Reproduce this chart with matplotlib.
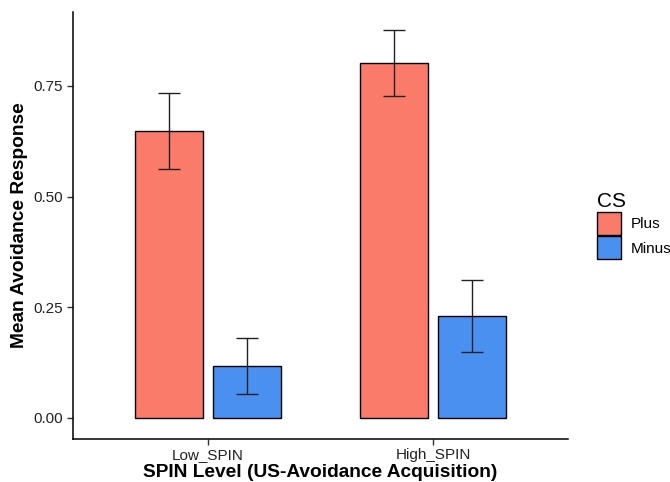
import numpy as np
import matplotlib
matplotlib.use('Agg')
import matplotlib.pyplot as plt

plt.rcParams['font.family'] = ['Liberation Sans', 'DejaVu Sans']

groups = ['Low_SPIN', 'High_SPIN']
cs_levels = ['Plus', 'Minus']
means = {'Plus': [0.648, 0.802], 'Minus': [0.117, 0.230]}
lower = {'Plus': [0.563, 0.728], 'Minus': [0.053, 0.148]}
upper = {'Plus': [0.733, 0.876], 'Minus': [0.181, 0.312]}
colors = {'Plus': '#FB7B6B', 'Minus': '#4A90F0'}

fig = plt.figure(figsize=(6.7, 4.82), dpi=100)
ax = fig.add_axes([0.109, 0.09, 0.739, 0.885])

x = np.arange(1, len(groups) + 1)
width = 0.3
offsets = {'Plus': -0.173, 'Minus': 0.173}

for cs in cs_levels:
    pos = x + offsets[cs]
    m = np.array(means[cs])
    err = [m - np.array(lower[cs]), np.array(upper[cs]) - m]
    ax.bar(pos, m, width=width, color=colors[cs], edgecolor='black',
           linewidth=1.0, label=cs, zorder=2)
    ax.errorbar(pos, m, yerr=err, fmt='none', ecolor='#222222',
                elinewidth=1.0, capsize=8, capthick=1.0, zorder=3)

ax.set_xlim(0.4, 2.6)
ax.set_ylim(-0.047, 0.917)
ax.set_xticks(x)
ax.set_xticklabels(groups)
ax.set_yticks([0, 0.25, 0.5, 0.75])
ax.set_yticklabels(['0.00', '0.25', '0.50', '0.75'])

for side in ['top', 'right']:
    ax.spines[side].set_visible(False)
for side in ['left', 'bottom']:
    ax.spines[side].set_linewidth(1.1)
    ax.spines[side].set_color('black')
ax.tick_params(axis='both', length=4, width=1, color='#333333',
               labelsize=11, labelcolor='#222222', pad=3)

ax.set_xlabel('SPIN Level (US-Avoidance Acquisition)', fontsize=13.8,
              fontweight='bold', labelpad=1)
ax.set_ylabel('Mean Avoidance Response', fontsize=13.8, fontweight='bold',
              labelpad=4)

leg = ax.legend(title='CS', loc='center left', bbox_to_anchor=(1.03, 0.50),
                frameon=False, fontsize=11, title_fontsize=15,
                handlelength=1.6, handleheight=1.9, handletextpad=0.6,
                labelspacing=0.1)
leg._legend_box.align = 'left'

fig.savefig('out.png', dpi=100)
